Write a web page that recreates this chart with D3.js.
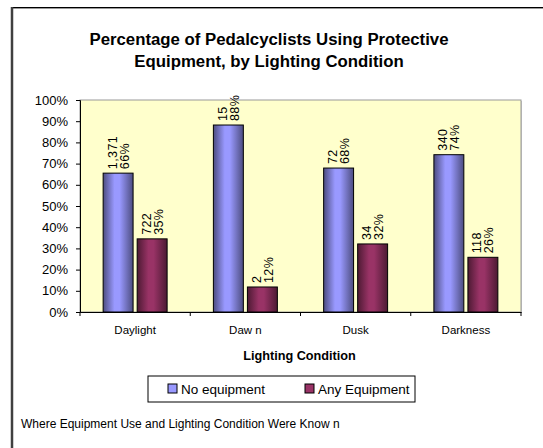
<!DOCTYPE html>
<html lang="en">
<head>
	<meta charset="UTF-8">
	<title>Pedalcyclists Protective Equipment</title>
	<script src="https://cdn.jsdelivr.net/npm/d3@7"></script>
	<style>
		body { margin: 0; background: #fff; }
		text { font-family: "Liberation Sans", Arial, sans-serif; }
	</style>
</head>
<body>
	<div id="vis"></div>

	<script>
		var width = 543;
		var height = 448;

		// data
		var categories = ["Daylight", "Dawn", "Dusk", "Darkness"];
		var catLabels = ["Daylight", "Daw n", "Dusk", "Darkness"];
		var seriesNames = ["No equipment", "Any Equipment"];
		var noEquipPct = [65.5, 88.2, 67.9, 74.2];
		var anyEquipPct = [34.5, 11.8, 32.1, 25.8];
		var noEquipCount = ["1,371", "15", "72", "340"];
		var anyEquipCount = ["722", "2", "34", "118"];
		var yTicks = [0, 10, 20, 30, 40, 50, 60, 70, 80, 90, 100];

		var svg = d3.select("#vis").append("svg")
				.attr("width", width)
				.attr("height", height);

		// outer chart border (only top and left fall inside the picture)
		svg.append("line").attr("x1", 11).attr("x2", width).attr("y1", 7.5).attr("y2", 7.5)
			.attr("stroke", "#000").attr("stroke-width", 1);
		svg.append("line").attr("x1", 11).attr("x2", width).attr("y1", 8.5).attr("y2", 8.5)
			.attr("stroke", "#999").attr("stroke-width", 1);
		svg.append("line").attr("x1", 12).attr("x2", 12).attr("y1", 7).attr("y2", height)
			.attr("stroke", "#404040").attr("stroke-width", 2.5);

		// title
		var title = svg.append("text")
			.attr("text-anchor", "middle")
			.attr("font-weight", "bold")
			.attr("font-size", 16.8)
			.attr("fill", "#000");
		title.append("tspan").attr("x", 269).attr("y", 45).text("Percentage of Pedalcyclists Using Protective");
		title.append("tspan").attr("x", 269).attr("y", 67).text("Equipment, by Lighting Condition");

		var plot = { left: 80, right: 521, top: 100, bottom: 312 };

		var x = d3.scaleBand()
			.domain(categories)
			.range([plot.left, plot.right]);

		var x1 = d3.scaleBand()
			.domain(seriesNames)
			.range([0, x.bandwidth()])
			.paddingInner(0.12)
			.paddingOuter(0.68);

		var y = d3.scaleLinear()
			.domain([0, 100])
			.range([plot.bottom, plot.top]);

		var defs = svg.append("defs");
		function cylinder(id, dark, light) {
			var g = defs.append("linearGradient").attr("id", id)
				.attr("x1", "0%").attr("x2", "100%").attr("y1", "0%").attr("y2", "0%");
			g.append("stop").attr("offset", "0%").attr("stop-color", dark);
			g.append("stop").attr("offset", "38%").attr("stop-color", light);
			g.append("stop").attr("offset", "55%").attr("stop-color", light);
			g.append("stop").attr("offset", "100%").attr("stop-color", dark);
		}
		cylinder("gBlue", "#4d4d80", "#9999ff");
		cylinder("gRed", "#4d1a33", "#993366");

		// plot area
		svg.append("rect")
			.attr("x", plot.left + 1).attr("y", plot.top + 1)
			.attr("width", plot.right - plot.left).attr("height", plot.bottom - plot.top)
			.attr("fill", "#c8c8c8");
		svg.append("rect")
			.attr("x", plot.left).attr("y", plot.top)
			.attr("width", plot.right - plot.left).attr("height", plot.bottom - plot.top)
			.attr("fill", "#ffffcc")
			.attr("stroke", "#999").attr("stroke-width", 1);

		// y axis
		var yAxis = d3.axisLeft(y)
			.tickValues(yTicks)
			.tickFormat(function(d) { return d + "%"; })
			.tickSize(4)
			.tickPadding(8);
		var gy = svg.append("g")
			.attr("transform", "translate(" + plot.left + ",0)")
			.call(yAxis);
		gy.select(".domain").attr("stroke", "#000");
		gy.selectAll(".tick line").attr("stroke", "#000");
		gy.selectAll(".tick text")
			.attr("font-size", 13)
			.attr("font-family", "Liberation Sans, Arial, sans-serif")
			.attr("fill", "#000");

		// bars
		var rows = categories.map(function(c, i) {
			return [
				{ cat: c, s: seriesNames[0], v: noEquipPct[i], n: noEquipCount[i], fill: "url(#gBlue)" },
				{ cat: c, s: seriesNames[1], v: anyEquipPct[i], n: anyEquipCount[i], fill: "url(#gRed)" }
			];
		});
		var flat = [].concat.apply([], rows);

		svg.append("g").selectAll("rect")
			.data(flat)
			.join("rect")
			.attr("x", function(d) { return x(d.cat) + x1(d.s); })
			.attr("y", function(d) { return y(d.v); })
			.attr("width", x1.bandwidth())
			.attr("height", function(d) { return y(0) - y(d.v); })
			.attr("fill", function(d) { return d.fill; })
			.attr("stroke", "#000")
			.attr("stroke-width", 1);

		// rotated value labels: count, then percentage
		var lbl = svg.append("g").selectAll("text")
			.data(flat)
			.join("text")
			.attr("transform", function(d) {
				var cx = x(d.cat) + x1(d.s) + x1.bandwidth() / 2;
				return "translate(" + cx + "," + (y(d.v) - 4) + ") rotate(-90)";
			})
			.attr("font-size", 12.5)
			.attr("letter-spacing", 0.4)
			.attr("fill", "#000");
		lbl.append("tspan").attr("x", 0).attr("dy", -1.5).text(function(d) { return d.n; });
		lbl.append("tspan").attr("x", 0).attr("dy", 12).text(function(d) { return Math.round(d.v) + "%"; });

		// x axis
		var xAxis = d3.axisBottom(x)
			.tickSize(0)
			.tickPadding(14)
			.tickFormat(function(d, i) { return catLabels[i]; });
		var gx = svg.append("g")
			.attr("transform", "translate(0," + plot.bottom + ")")
			.call(xAxis);
		gx.select(".domain").attr("stroke", "#000");
		gx.selectAll(".tick text")
			.attr("font-size", 11.5)
			.attr("font-family", "Liberation Sans, Arial, sans-serif")
			.attr("fill", "#000");
		// category separators
		gx.selectAll(".sep")
			.data(categories.concat(["end"]))
			.join("line")
			.attr("x1", function(d, i) { return plot.left + i * x.bandwidth(); })
			.attr("x2", function(d, i) { return plot.left + i * x.bandwidth(); })
			.attr("y1", 0).attr("y2", 4)
			.attr("stroke", "#000");

		svg.append("text")
			.attr("x", (plot.left + plot.right) / 2 - 1)
			.attr("y", 360)
			.attr("text-anchor", "middle")
			.attr("font-weight", "bold")
			.attr("font-size", 12.7)
			.text("Lighting Condition");

		// legend
		svg.append("rect")
			.attr("x", 148).attr("y", 376).attr("width", 267).attr("height", 26)
			.attr("fill", "#fff").attr("stroke", "#000");
		var legend = svg.append("g").selectAll("g")
			.data(seriesNames)
			.join("g")
			.attr("transform", function(d, i) { return "translate(" + (168 + i * 137) + ",384)"; });
		legend.append("rect")
			.attr("width", 9).attr("height", 9)
			.attr("fill", function(d, i) { return i === 0 ? "#9999ff" : "#993366"; })
			.attr("stroke", "#000");
		legend.append("text")
			.attr("x", 13).attr("y", 10)
			.attr("font-size", 13.5)
			.text(function(d) { return d; });

		// footnote
		svg.append("text")
			.attr("x", 21).attr("y", 428)
			.attr("font-size", 12)
			.text("Where Equipment Use and Lighting Condition Were Know n");
	</script>
</body>
</html>
